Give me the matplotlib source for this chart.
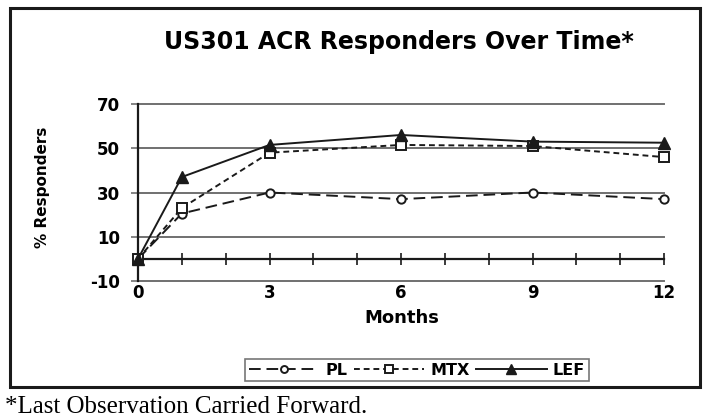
import matplotlib
matplotlib.use("Agg")
import matplotlib.pyplot as plt
from matplotlib.lines import Line2D
from matplotlib.patches import Rectangle

months = [0, 1, 3, 6, 9, 12]
pl = [0, 20.5, 30, 27, 30, 27]
mtx = [0, 23, 48, 51.5, 51, 46]
lef = [0, 37, 51.5, 56, 53, 52.5]
xticks = [0, 3, 6, 9, 12]
yticks = [-10, 10, 30, 50, 70]

plt.rcParams['font.family'] = ['DejaVu Sans']
fig = plt.figure(figsize=(7.05, 4.19), dpi=100)
ax = fig.add_axes([138/705, 1-281/419, 526/705, 177/419])

ink = '#1a1a1a'
grid = '#707070'
ax.set_xlim(0, 12)
ax.set_ylim(-10, 70)
for y in yticks:
    ax.axhline(y, color=grid, lw=1.4, zorder=1, clip_on=False)

ax.plot(months, pl, color=ink, lw=1.4, ls=(0, (6, 3)), marker='o', ms=6,
        mfc='white', mec=ink, mew=1.4, clip_on=False, zorder=3, label='PL')
ax.plot(months, mtx, color=ink, lw=1.4, ls=(0, (3, 2)), marker='s', ms=7,
        mfc='white', mec=ink, mew=1.4, clip_on=False, zorder=3, label='MTX')
ax.plot(months, lef, color=ink, lw=1.4, ls='-', marker='^', ms=8,
        mfc=ink, mec=ink, clip_on=False, zorder=4, label='LEF')

for s in ['top', 'right']:
    ax.spines[s].set_visible(False)
ax.spines['left'].set_color(ink)
ax.spines['left'].set_linewidth(1.6)
ax.spines['bottom'].set_position(('data', 0))
ax.spines['bottom'].set_color(ink)
ax.spines['bottom'].set_linewidth(1.6)
ax.set_xticks(range(0, 13))
ax.tick_params(axis='x', direction='inout', length=8, width=1.2, color=ink,
               labelbottom=False)
ax.set_yticks(yticks)
ax.set_yticklabels([str(v) for v in yticks], fontsize=12, fontweight='bold')
ax.tick_params(axis='y', direction='out', length=5, width=1.2, color=grid, pad=8)

sec = ax.secondary_xaxis(0.0)
sec.set_xticks(xticks)
sec.set_xticklabels([str(v) for v in xticks], fontsize=12, fontweight='bold')
sec.tick_params(length=0, pad=2)
sec.spines['bottom'].set_visible(False)

fig.text(43/705, 1-187/419, '% Responders', rotation=90, ha='center',
         va='center', fontsize=11, fontweight='bold')
fig.text(402/705, 1-318/419, 'Months', ha='center', va='center',
         fontsize=13, fontweight='bold')
fig.text(399/705, 1-42/419, 'US301 ACR Responders Over Time*', ha='center',
         va='center', fontsize=17, fontweight='bold')

handles = [
    Line2D([], [], color=ink, lw=1.4, ls=(0, (6, 3)), marker='o', ms=5,
           mfc='white', mec=ink, mew=1.4),
    Line2D([], [], color=ink, lw=1.4, ls=(0, (3, 2)), marker='s', ms=6,
           mfc='white', mec=ink, mew=1.4),
    Line2D([], [], color=ink, lw=1.4, ls='-', marker='^', ms=7, mfc=ink, mec=ink),
]
leg = fig.legend(handles, ['PL', 'MTX', 'LEF'], loc='center',
                 bbox_to_anchor=(417/705, 1-370/419), ncol=3, frameon=True,
                 fancybox=False, edgecolor='#555555',
                 prop={'weight': 'bold', 'size': 11.5}, handlelength=4.4,
                 columnspacing=0.4, handletextpad=0.4, borderpad=0.25,
                 borderaxespad=0)
leg.get_frame().set_linewidth(1.2)

fig.patches.append(Rectangle((10/705, 1-387/419), 690/705, 379/419,
                             transform=fig.transFigure, fill=False,
                             edgecolor=ink, lw=2.2))
fig.text(5/705, 1-413/419, '*Last Observation Carried Forward.',
         ha='left', va='baseline', fontsize=18, family='Liberation Serif')

fig.savefig('out.png', dpi=100)
